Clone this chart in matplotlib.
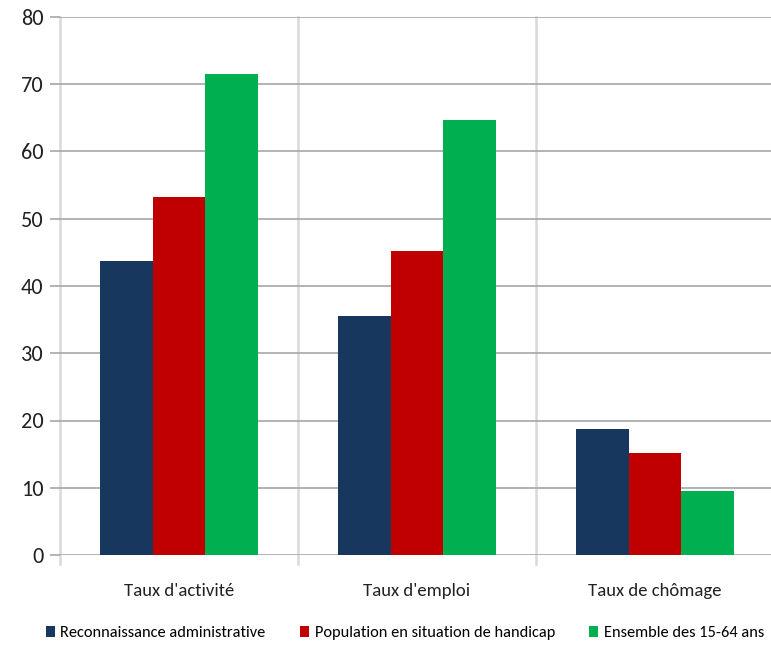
import matplotlib
matplotlib.use('Agg')
import matplotlib.pyplot as plt
from matplotlib.patches import Patch
import numpy as np

plt.rcParams['font.family'] = ['Carlito', 'Liberation Sans Narrow', 'Roboto Condensed',
                               'Open Sans Condensed', 'DejaVu Sans']

# Données
categories = ["Taux d'activité", "Taux d'emploi", "Taux de chômage"]
series = ["Reconnaissance administrative", "Population en situation de handicap",
          "Ensemble des 15-64 ans"]
reconnaissance = [43.7, 35.5, 18.7]
population = [53.2, 45.2, 15.2]
ensemble = [71.5, 64.7, 9.5]
colors = ['#17375E', '#C00000', '#00B050']

W, H = 771, 646
fig = plt.figure(figsize=(W / 100, H / 100), dpi=100)
ax = fig.add_axes([60 / W, (H - 555) / H, 714 / W, 538 / H])

x = np.arange(len(categories)) + 0.5
bw = 0.221
for i, (vals, c) in enumerate(zip([reconnaissance, population, ensemble], colors)):
    ax.bar(x + (i - 1) * bw, vals, width=bw, color=c, zorder=3)

ax.set_xlim(0, 3)
ax.set_ylim(0, 80)
ax.set_yticks(range(0, 81, 10))
ax.set_xticks(x)
ax.set_xticklabels(categories, fontsize=13.5, color='#222222')
ax.tick_params(axis='x', length=0, pad=20)
ax.tick_params(axis='y', length=7, color='#a6a6a6', width=1.2, labelsize=16,
               labelcolor='#222222', pad=5)

for s in ax.spines.values():
    s.set_visible(False)
ax.yaxis.grid(True, color='#a6a6a6', linewidth=1.2, zorder=1)

# séparateurs verticaux
for xv in [0, 1, 2]:
    ax.axvline(xv, ymin=-0.016, ymax=1, color='#d9d9d9', linewidth=1.8,
               clip_on=False, zorder=0)

handles = [Patch(facecolor=c, edgecolor='none') for c in colors]
fig.legend(handles, series, loc='center', bbox_to_anchor=(405 / W, (H - 633) / H),
           ncol=3, frameon=False, fontsize=11.8, handlelength=0.55,
           handleheight=0.7, handletextpad=0.35, columnspacing=2.1)

fig.savefig('out.png', dpi=100)
